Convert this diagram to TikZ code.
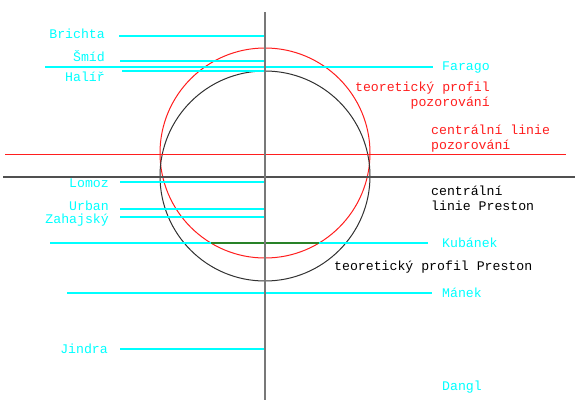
\documentclass[tikz,border=0pt]{standalone}
\usepackage{fontspec}
\setmainfont{Liberation Mono}
\definecolor{cy}{RGB}{0,255,255}
\definecolor{rd}{RGB}{255,30,30}
\definecolor{axv}{RGB}{120,120,120}
\definecolor{axh}{RGB}{80,80,80}
\definecolor{circk}{RGB}{50,50,50}
\definecolor{grn}{RGB}{40,130,40}
\begin{document}
\begin{tikzpicture}[x=1pt,y=-1pt,
  cyline/.style={draw=cy,line width=1.2pt},
  lbl/.style={inner sep=0pt,font=\fontsize{13.2}{14}\selectfont},
  lw/.style={lbl,anchor=base west},
  le/.style={lbl,anchor=base east},
  cylbl/.style={text=cy},
  rdlbl/.style={text=rd},
  bklbl/.style={text=black}]
\useasboundingbox (0,0) rectangle (575,400);
% circles
\draw[rd,line width=1pt] (265,153) circle[radius=105];
\draw[circk,line width=1pt] (265,176) circle[radius=105];
% horizontal lines
\draw[rd,line width=1pt] (5,154) -- (566,154);
\draw[axh,line width=1.1pt] (3,177) -- (575,177);
% cyan lines
\draw[cyline] (119,36) -- (264,36);
\draw[cyline] (120,61) -- (264,61);
\draw[cyline] (45,67) -- (433,67);
\draw[cyline] (122,71) -- (264,71);
\draw[cyline] (120,182) -- (264,182);
\draw[cyline] (120,209) -- (264,209);
\draw[cyline] (120,217) -- (264,217);
\draw[cyline] (50,243) -- (428,243);
\draw[grn,line width=1.2pt] (211,243) -- (319,243);
\draw[cyline] (67,293) -- (432,293);
\draw[cyline] (120,349) -- (264,349);
% vertical axis
\draw[axv,line width=1.5pt] (265,12) -- (265,400);
% labels left
\node[le,cylbl] (brichta) at (105,38) {Brichta};
\node[le,cylbl] (smid) at (105,61) {Šmíd};
\node[le,cylbl] (halir) at (105,81) {Halíř};
\node[le,cylbl] (lomoz) at (109,187) {Lomoz};
\node[le,cylbl] (urban) at (109,210) {Urban};
\node[le,cylbl] (zahajsky) at (109,223) {Zahajský};
\node[le,cylbl] (jindra) at (108,353) {Jindra};
% labels right
\node[lw,cylbl] (farago) at (442,70) {Farago};
\node[lw,cylbl] (kubanek) at (442,247) {Kubánek};
\node[lw,cylbl] (manek) at (442,297) {Mánek};
\node[lw,cylbl] (dangl) at (442,390) {Dangl};
\node[le,rdlbl] (tp1) at (490,91) {teoretický profil};
\node[le,rdlbl] (tp2) at (490,106) {pozorování};
\node[lw,rdlbl] (cl1) at (431,134) {centrální linie};
\node[lw,rdlbl] (cl2) at (431,149) {pozorování};
\node[lw,bklbl] (cp1) at (431,195) {centrální};
\node[lw,bklbl] (cp2) at (431,210) {linie Preston};
\node[lw,bklbl] (tpp) at (334,270) {teoretický profil Preston};
\end{tikzpicture}
\end{document}
